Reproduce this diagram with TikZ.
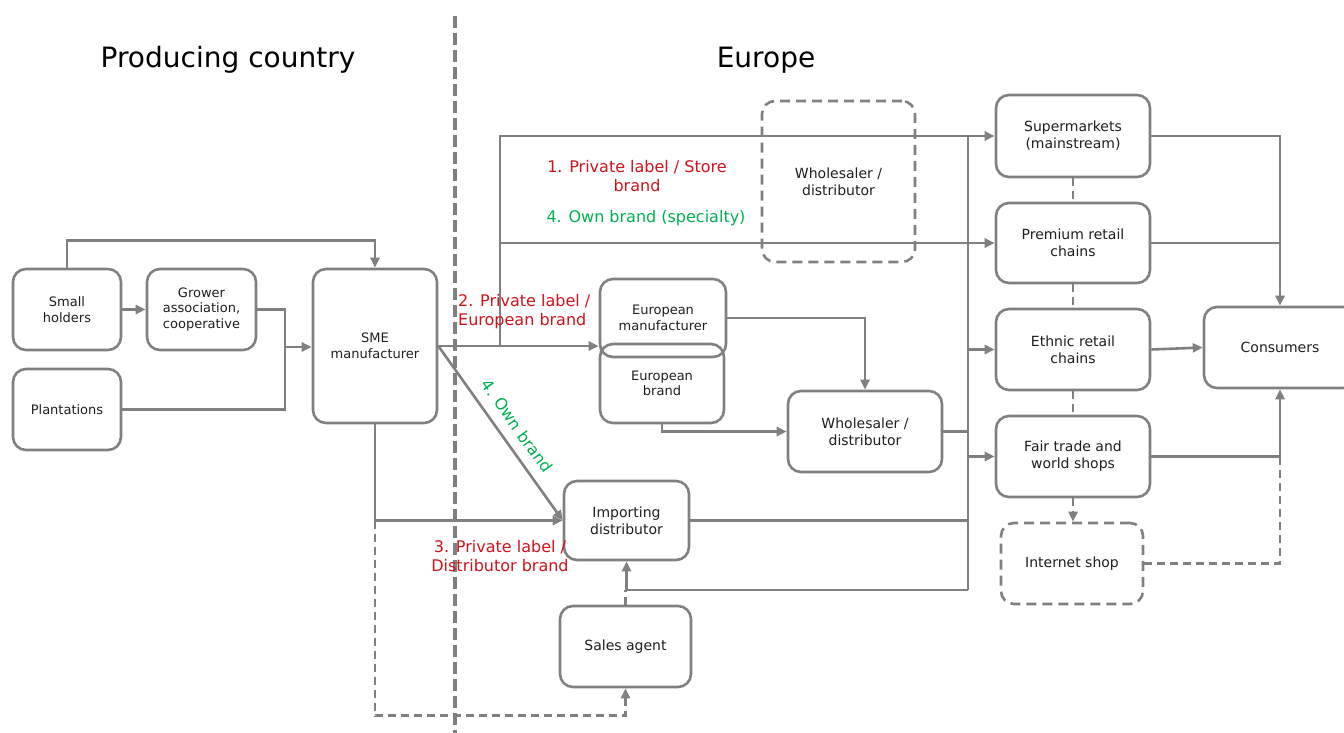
\documentclass[tikz,border=0pt]{standalone}
\usepackage{fontspec}
\setmainfont{DejaVu Sans}
\usetikzlibrary{arrows.meta}
\definecolor{lg}{RGB}{128,128,128}
\definecolor{txt}{RGB}{30,30,30}
\definecolor{lred}{RGB}{208,18,28}
\definecolor{lgreen}{RGB}{0,176,80}
\tikzset{
  box/.style={draw=lg, line width=2.6pt, rounded corners=13pt, align=center, inner sep=0pt, text=txt, font=\fontsize{14}{17}\selectfont},
  sbox/.style={box, font=\fontsize{13}{15.5}\selectfont},
  dbox/.style={box, dash pattern=on 10pt off 6pt},
  conn/.style={draw=lg, line width=2.6pt},
  arr/.style={conn, -{Triangle[length=10pt,width=9pt]}},
  dconn/.style={conn, dash pattern=on 8pt off 5pt},
  darr/.style={dconn, -{Triangle[length=10pt,width=9pt]}},
  lbl/.style={align=center, inner sep=0pt, font=\fontsize{16}{19}\selectfont},
  ttl/.style={inner sep=0pt, text=black, font=\fontsize{28}{32}\selectfont}
}
\begin{document}
\begin{tikzpicture}[x=1pt,y=-1pt]
\useasboundingbox (0,0) rectangle (1344,733);
% titles
\node[ttl] (t1) at (228,60) {Producing country};
\node[ttl] (t2) at (766,60) {Europe};
% divider
\draw[draw=lg, line width=4pt, dash pattern=on 12pt off 5pt] (455,16) -- (455,733);
% dashed wholesaler (top)
\node[dbox, minimum width=153pt, minimum height=161pt] (wdt) at (838.5,181.5) {Wholesaler /\\distributor};
% producing country nodes
\node[sbox, minimum width=108pt, minimum height=81pt] (sh) at (67,309.5) {Small\\holders};
\node[sbox, minimum width=109pt, minimum height=81pt] (ga) at (201.5,309.5) {Grower\\association,\\cooperative};
\node[sbox, minimum width=108pt, minimum height=81pt] (pl) at (67,409.5) {Plantations};
\node[sbox, minimum width=124pt, minimum height=154pt] (sme) at (375,346) {SME\\manufacturer};
% european manufacturer / brand
\node[sbox, minimum width=126pt, minimum height=78pt] (em) at (663,318) {European\\manufacturer};
\node[sbox, minimum width=124pt, minimum height=79pt] (eb) at (662,383.5) {European\\brand};
\node[box, minimum width=154pt, minimum height=81pt] (wd) at (865,431.5) {Wholesaler /\\distributor};
\node[box, minimum width=125pt, minimum height=79pt] (id) at (626.5,520.5) {Importing\\distributor};
\node[box, minimum width=131pt, minimum height=81pt] (sa) at (625.5,646.5) {Sales agent};
% retail
\node[box, minimum width=154pt, minimum height=82pt] (sm) at (1073,136) {Supermarkets\\(mainstream)};
\node[box, minimum width=154pt, minimum height=80pt] (pr) at (1073,243) {Premium retail\\chains};
\node[box, minimum width=154pt, minimum height=81pt] (et) at (1073,349.5) {Ethnic retail\\chains};
\node[box, minimum width=154pt, minimum height=81pt] (ft) at (1073,456.5) {Fair trade and\\world shops};
\node[dbox, minimum width=142pt, minimum height=81pt] (is) at (1072,563.5) {Internet shop};
\node[box, minimum width=152pt, minimum height=81pt] (co) at (1280,347.5) {Consumers};
% producing country connectors
\draw[arr] (sh.north) -- ++(0,-27) -| (sme.north);
\draw[arr] (sh.east) -- (ga.west);
\coordinate (j1) at (285,347);
\draw[conn] (ga.east) -| (j1);
\draw[conn] (pl.east) -| (j1);
\draw[arr] (j1) -- (sme.west |- j1);
% from SME
\draw[arr] (sme.east) -- (eb.west |- sme.east);
\coordinate (b1) at (500,346);
\coordinate (b2) at (500,243);
\draw[arr] (b1) |- (sm.west);
\draw[arr] (b2) -- (pr.west);
\draw[arr] (sme.east) -- (id.west);
\draw[arr] (sme.south) |- (id.west);
\coordinate (d0) at (sme.south |- id.west);
\draw[darr] (d0) -- ++(0,195) -| (sa.south);
% european manufacturer
\draw[arr] (em.east) -| (wd.north);
\draw[arr] (eb.south) |- (wd.west);
% bus
\coordinate (bt) at (968,136);
\coordinate (bb) at (968,590);
\draw[conn] (bt) -- (bb);
\draw[conn] (wd.east) -- (wd.east -| bt);
\draw[arr] (bt |- et.west) -- (et.west);
\draw[arr] (bt |- ft.west) -- (ft.west);
\draw[conn] (id.east) -- (id.east -| bt);
\draw[arr] (bb) -| (id.south);
\draw[dconn] (sa.north) -- (sa.north |- bb);
% retail links
\draw[dconn] (sm.south) -- (pr.north);
\draw[dconn] (pr.south) -- (et.north);
\draw[dconn] (et.south) -- (ft.north);
\draw[darr] (ft.south) -- (ft.south |- is.north);
\draw[arr] (sm.east) -| (co.north);
\draw[conn] (pr.east) -- (pr.east -| co.north);
\draw[arr] (et.east) -- (co.west);
\draw[arr] (ft.east) -| (co.south);
\draw[dconn] (is.east) -| (co.south |- ft.east);
% labels
\node[lbl, text=lred] (l1) at (637,176) {1. Private label / Store\\brand};
\node[lbl, text=lgreen] (l4) at (646,218) {4. Own brand (specialty)};
\node[lbl, text=lred, align=left, anchor=west] (l2) at (458,311.5) {2. Private label /\\European brand};
\node[lbl, text=lred] (l3) at (500,556.5) {3. Private label /\\Distributor brand};
\node[lbl, text=lgreen, rotate=-54.4] (l5) at (517,426) {4. Own brand};
\end{tikzpicture}
\end{document}
